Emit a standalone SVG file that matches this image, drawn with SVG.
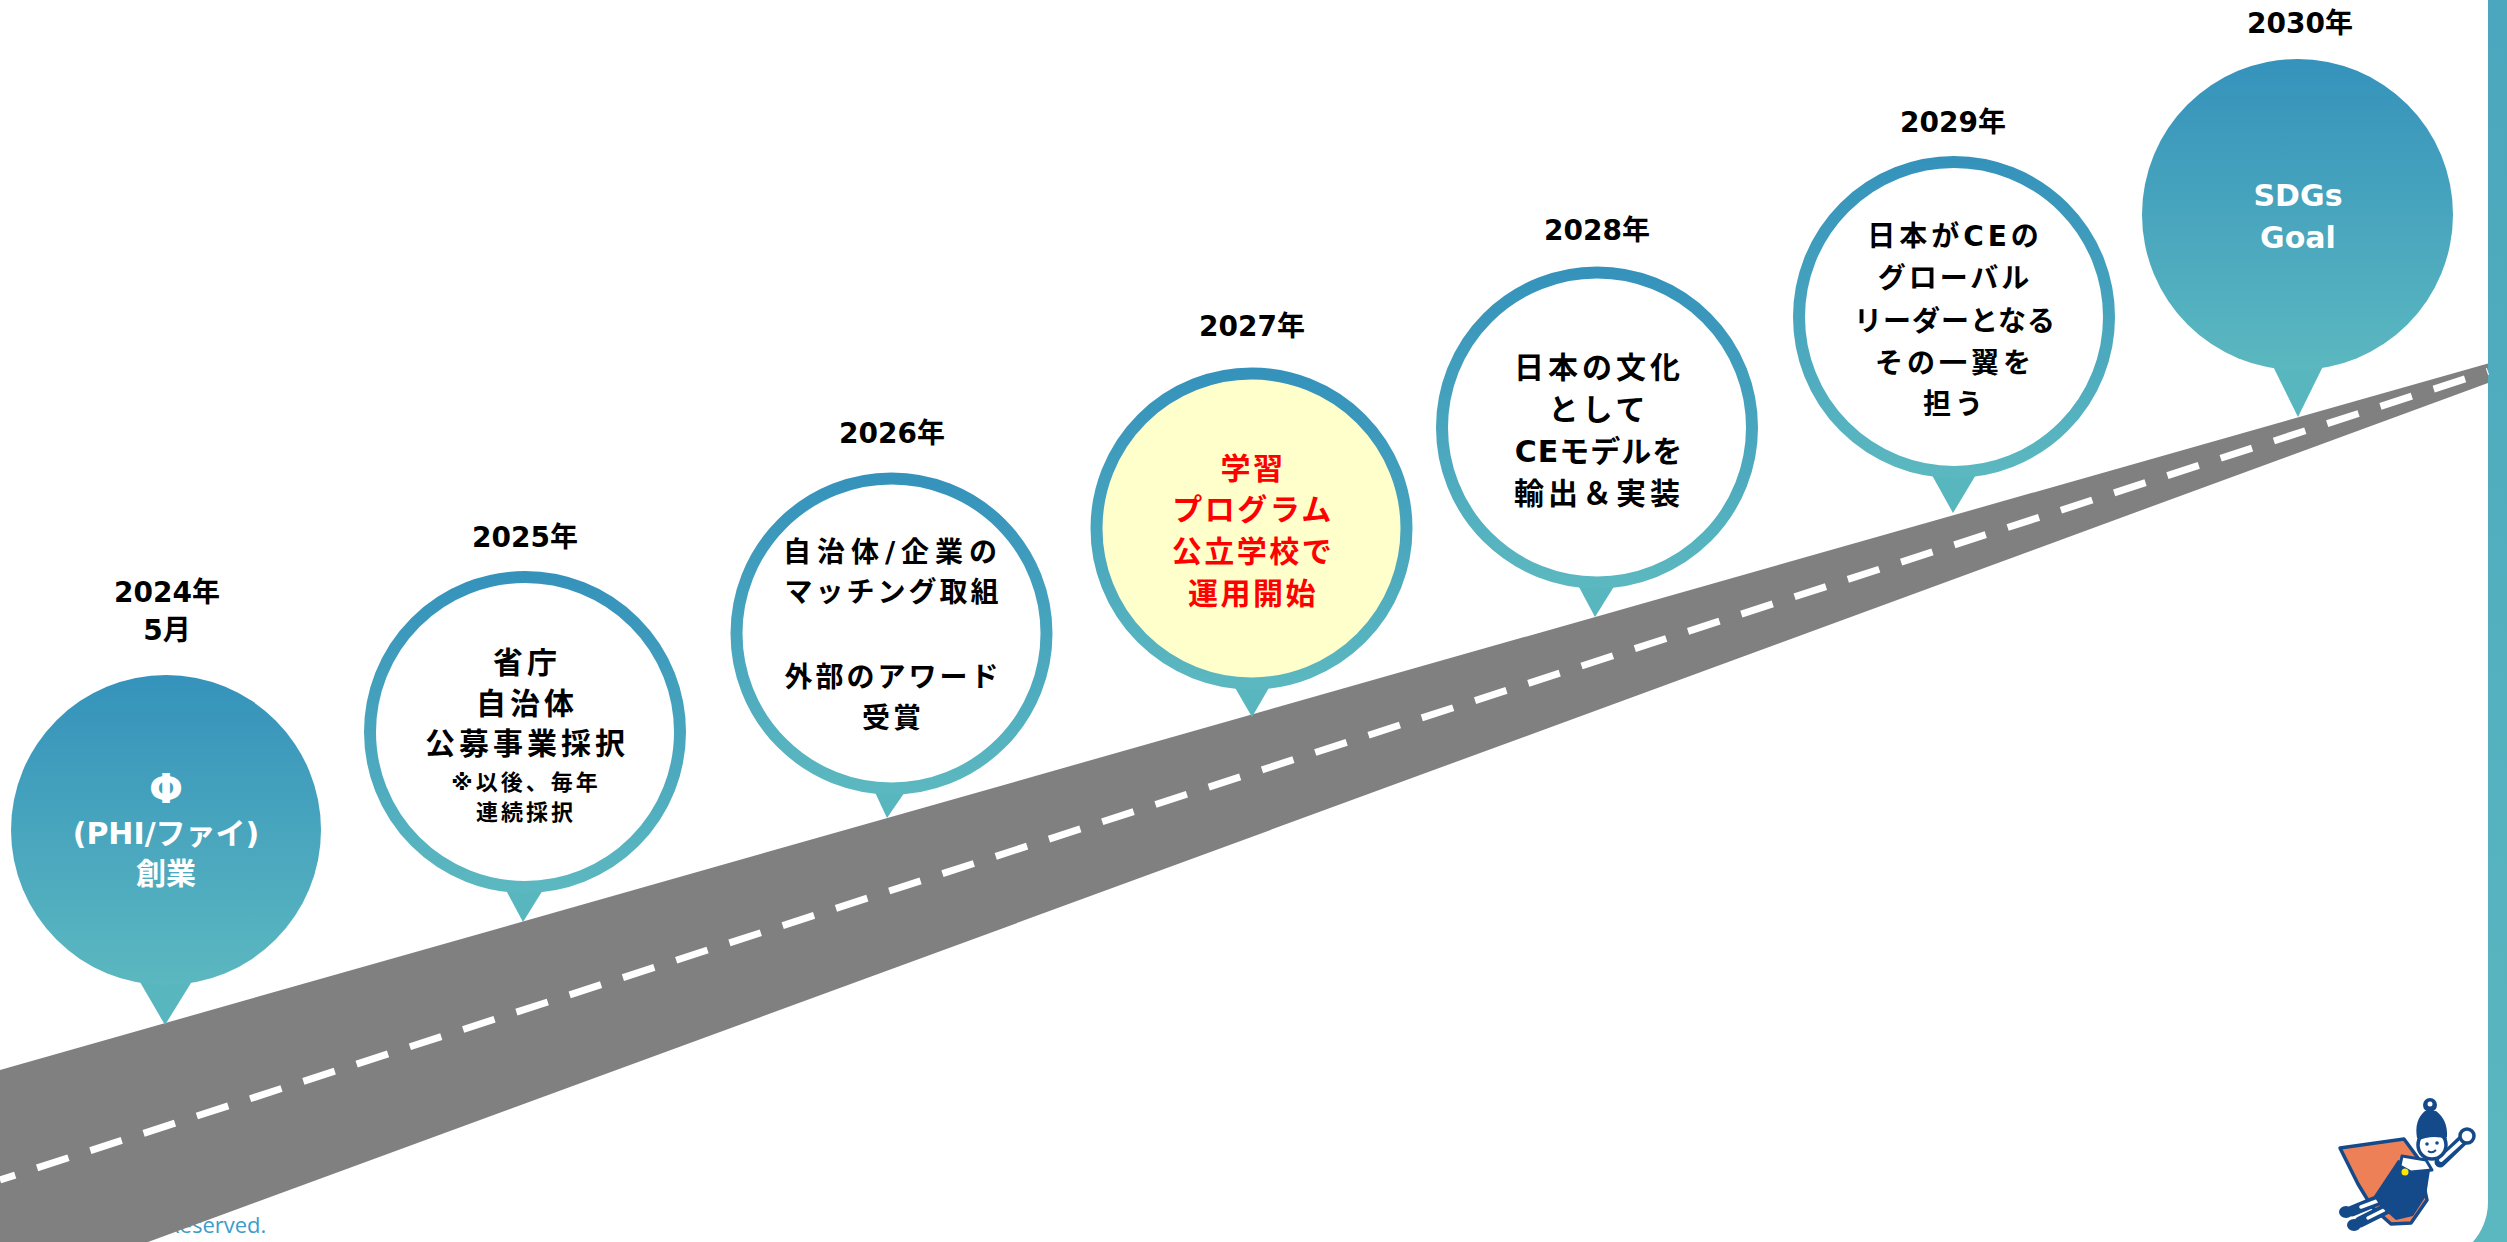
<svg xmlns="http://www.w3.org/2000/svg" width="2507" height="1242" viewBox="0 0 2507 1242">
  <defs>
    <linearGradient id="teal" x1="0" y1="0" x2="0" y2="1">
      <stop offset="0" stop-color="#3592bb"/>
      <stop offset="1" stop-color="#5bb8c0"/>
    </linearGradient>
    <linearGradient id="edge" x1="0" y1="0" x2="0" y2="1">
      <stop offset="0" stop-color="#4aa7bd"/>
      <stop offset="1" stop-color="#5bb8c0"/>
    </linearGradient>
  </defs>
  <style>
    .yr { font-family: "DejaVu Sans", "Noto Sans CJK JP", sans-serif; font-weight: 700; font-size: 28px; fill: #000; text-anchor: middle; }
    .txt { font-family: "DejaVu Sans", "Noto Sans CJK JP", sans-serif; font-weight: 700; text-anchor: middle; fill: #000; }
    .wht { fill: #fff; }
    .red { fill: #ff0000; }
    .ring { fill: #fff; stroke: url(#teal); stroke-width: 12; }
    .solid { fill: url(#teal); }
    .tip { fill: #58b6bf; }
    .navy { fill: #154a8a; }
    .limb { fill: none; stroke: #154a8a; stroke-linecap: round; }
    .limbw { fill: none; stroke: #fff; stroke-linecap: round; }
  </style>

  <!-- page background with teal frame on the right -->
  <rect x="0" y="0" width="2507" height="1242" fill="#fff"/>
  <rect x="2430" y="0" width="77" height="1242" fill="url(#edge)"/>
  <rect x="-100" y="-100" width="2588" height="1362" rx="60" ry="60" fill="#fff"/>

  <!-- footer (mostly hidden under the road) -->
  <text x="166" y="1233" font-family="'Open Sans', 'Noto Sans', sans-serif" font-size="22" fill="#3d9cc9">Reserved.</text>

  <!-- road -->
  <g id="road">
    <polygon points="0,1070 2488,363.4 2488,383 148,1242 0,1242" fill="#808080"/>
    <line x1="0" y1="1180" x2="2488" y2="371.4" stroke="#fff" stroke-width="7" stroke-dasharray="33 23" stroke-dashoffset="17"/>
  </g>

  <!-- 2024 -->
  <g id="m2024">
    <text class="yr" x="167" y="602">2024年</text>
    <text class="yr" x="167" y="640">5月</text>
    <polygon class="tip" points="133,970 199,970 165,1025"/>
    <circle class="solid" cx="166" cy="830" r="155"/>
    <text x="166" y="803" font-family="'DejaVu Sans', sans-serif" font-weight="700" font-size="40" fill="#fff" text-anchor="middle">Φ</text>
    <text class="txt wht" x="166" y="844" font-size="30">(PHI/ファイ)</text>
    <text class="txt wht" x="166" y="884" font-size="30">創業</text>
  </g>

  <!-- 2025 -->
  <g id="m2025">
    <text class="yr" x="525" y="547">2025年</text>
    <polygon class="tip" points="499,877 551,877 523,922"/>
    <circle class="ring" cx="525" cy="732" r="155"/>
    <g class="txt" font-size="30" letter-spacing="4">
      <text x="527" y="673">省庁</text>
      <text x="527" y="714">自治体</text>
      <text x="527" y="754">公募事業採択</text>
    </g>
    <g class="txt" font-size="22" letter-spacing="3">
      <text x="526" y="790">※以後、毎年</text>
      <text x="526" y="820">連続採択</text>
    </g>
  </g>

  <!-- 2026 -->
  <g id="m2026">
    <text class="yr" x="892" y="443">2026年</text>
    <polygon class="tip" points="866,773 918,773 887,818"/>
    <circle class="ring" cx="891.5" cy="633.5" r="155"/>
    <g class="txt" font-size="28" letter-spacing="3">
      <text x="893" y="562" letter-spacing="6">自治体/企業の</text>
      <text x="893" y="602">マッチング取組</text>
      <text x="893" y="687">外部のアワード</text>
      <text x="893" y="728">受賞</text>
    </g>
  </g>

  <!-- 2027 -->
  <g id="m2027">
    <text class="yr" x="1252" y="336">2027年</text>
    <polygon class="tip" points="1226,672 1278,672 1252,717"/>
    <circle class="ring" cx="1251.5" cy="528.5" r="155" style="fill:#ffffcc"/>
    <g class="txt red" font-size="30" letter-spacing="2.5">
      <text x="1253" y="479">学習</text>
      <text x="1253" y="520">プログラム</text>
      <text x="1253" y="562">公立学校で</text>
      <text x="1253" y="604">運用開始</text>
    </g>
  </g>

  <!-- 2028 -->
  <g id="m2028">
    <text class="yr" x="1597" y="240">2028年</text>
    <polygon class="tip" points="1571,572 1623,572 1595,617"/>
    <circle class="ring" cx="1597" cy="427.5" r="155"/>
    <g class="txt" font-size="30" letter-spacing="4">
      <text x="1599" y="378">日本の文化</text>
      <text x="1599" y="420">として</text>
      <text x="1599" y="462" letter-spacing="1">CEモデルを</text>
      <text x="1599" y="504">輸出＆実装</text>
    </g>
  </g>

  <!-- 2029 -->
  <g id="m2029">
    <text class="yr" x="1953" y="132">2029年</text>
    <polygon class="tip" points="1928,468 1980,468 1953,513"/>
    <circle class="ring" cx="1954" cy="317" r="155"/>
    <g class="txt" font-size="28" letter-spacing="3">
      <text x="1955" y="246" letter-spacing="4">日本がCEの</text>
      <text x="1955" y="288">グローバル</text>
      <text x="1955" y="331" letter-spacing="1">リーダーとなる</text>
      <text x="1955" y="373" letter-spacing="4">その一翼を</text>
      <text x="1955" y="414" letter-spacing="4">担う</text>
    </g>
  </g>

  <!-- 2030 -->
  <g id="m2030">
    <text class="yr" x="2300" y="33">2030年</text>
    <polygon class="tip" points="2266,352 2330,352 2298,417"/>
    <circle class="solid" cx="2297.5" cy="214.5" r="155.5"/>
    <text class="txt wht" x="2298" y="206" font-size="30">SDGs</text>
    <text class="txt wht" x="2298" y="248" font-size="30">Goal</text>
  </g>

  <!-- flying mascot, bottom right -->
  <g id="mascot" stroke-linejoin="round">
    <path d="M2340,1148 L2404,1139 L2418,1158 L2427,1200 L2411,1223 L2391,1224 L2372,1207 L2358,1184 Z" fill="#ee8058" stroke="#154a8a" stroke-width="3.5"/>
    <path class="limb" d="M2381,1199 L2352,1211" stroke-width="11"/>
    <path class="limb" d="M2388,1208 L2360,1222" stroke-width="11"/>
    <path class="limbw" d="M2377,1201 L2361,1207" stroke-width="3.5"/>
    <path class="limbw" d="M2384,1210 L2368,1218" stroke-width="3.5"/>
    <ellipse class="navy" cx="2346" cy="1212" rx="7" ry="6"/>
    <ellipse class="navy" cx="2354" cy="1225" rx="7" ry="6"/>
    <path class="navy" d="M2398,1160 L2430,1170 L2426,1196 L2413,1216 L2396,1220 L2380,1206 L2374,1196 L2386,1178 Z"/>
    <path d="M2402,1156 L2426,1160 L2432,1170 L2411,1172 L2400,1166 Z" fill="#fff" stroke="#154a8a" stroke-width="3"/>
    <path class="limb" d="M2440,1162 L2465,1138" stroke-width="11"/>
    <path class="limbw" d="M2441,1160 L2463,1140" stroke-width="4"/>
    <circle cx="2467" cy="1136" r="7" fill="#fff" stroke="#154a8a" stroke-width="3.5"/>
    <path class="navy" d="M2417,1138 Q2414,1120 2425,1111 L2436,1111 Q2448,1120 2447,1137 Z"/>
    <circle class="navy" cx="2430" cy="1105" r="7"/>
    <circle cx="2430" cy="1104" r="2.5" fill="#fff"/>
    <circle cx="2432" cy="1145" r="14" fill="#fff" stroke="#154a8a" stroke-width="3.5"/>
    <path class="navy" d="M2417,1141 Q2420,1126 2432,1126 Q2444,1126 2447,1139 Q2432,1134 2417,1141 Z"/>
    <circle class="navy" cx="2427" cy="1144" r="1.8"/>
    <circle class="navy" cx="2437" cy="1143" r="1.8"/>
    <path d="M2428,1151 Q2432,1154 2436,1150" fill="none" stroke="#154a8a" stroke-width="1.8"/>
    <circle cx="2405" cy="1172" r="3.5" fill="#ffe600"/>
  </g>
</svg>
